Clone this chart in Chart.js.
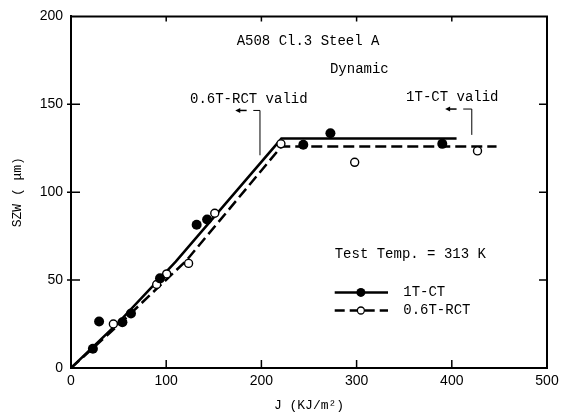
<!DOCTYPE html>
<html>
<head>
<meta charset="utf-8">
<script src="https://cdn.jsdelivr.net/npm/chart.js@4"></script>
<style>
html, body { margin: 0; padding: 0; background: #fff; }
#wrap { width: 564px; height: 416px; }
</style>
</head>
<body>
<div id="wrap"><canvas id="szwChart" width="564" height="416"></canvas></div>
<script>
// 1T-CT measured points (filled)
const ctJ   = [23, 29.5, 54, 63, 93.5, 132, 143, 244, 272.5, 390];
const ctSZW = [11, 26.5, 26, 31, 51, 81.5, 84.5, 127, 133.5, 127.5];

// 0.6T-RCT measured points (open)
const rctJ   = [44.5, 90, 100.5, 123.5, 151, 220.5, 298, 427];
const rctSZW = [25, 47.5, 53.5, 59.5, 88, 127.5, 117, 123.5];

// fitted curves
const ctFitJ    = [0, 50, 110, 221, 405];
const ctFitSZW  = [0, 26, 60.5, 130.5, 130.5];
const rctFitJ   = [0, 50, 121, 221, 447];
const rctFitSZW = [0, 24.5, 61, 126, 126];

// axes
const xTicks = [0, 100, 200, 300, 400, 500];
const yTicks = [0, 50, 100, 150, 200];

const MONO = '"Liberation Mono", "DejaVu Sans Mono", monospace';
const SANS = '"Liberation Sans", Arial, sans-serif';

function toPoints(xs, ys) {
    return xs.map((x, i) => ({ x: x, y: ys[i] }));
}

// frame, inner ticks, notes and legend
const decorPlugin = {
    id: 'decor',
    afterDraw(chart) {
        const ctx = chart.ctx;
        const a = chart.chartArea;
        const xs = chart.scales.x;
        const ys = chart.scales.y;
        const px = v => xs.getPixelForValue(v);
        const py = v => ys.getPixelForValue(v);

        ctx.save();
        ctx.strokeStyle = '#000';
        ctx.fillStyle = '#000';

        // top and right frame
        ctx.lineWidth = 2;
        ctx.beginPath();
        ctx.moveTo(a.left, a.top);
        ctx.lineTo(a.right, a.top);
        ctx.lineTo(a.right, a.bottom);
        ctx.stroke();

        // inward ticks
        ctx.lineWidth = 1.5;
        ctx.beginPath();
        xTicks.slice(1, -1).forEach(v => {
            ctx.moveTo(px(v), a.bottom);
            ctx.lineTo(px(v), a.bottom - 8);
            ctx.moveTo(px(v), a.top);
            ctx.lineTo(px(v), a.top + 5);
        });
        yTicks.slice(1, -1).forEach(v => {
            ctx.moveTo(a.left - 4, py(v));
            ctx.lineTo(a.left + 9, py(v));
            ctx.moveTo(a.right, py(v));
            ctx.lineTo(a.right - 8, py(v));
        });
        ctx.stroke();

        // text notes
        ctx.font = '14px ' + MONO;
        ctx.textBaseline = 'middle';
        ctx.textAlign = 'left';
        ctx.fillText('A508 Cl.3 Steel A', px(174), py(185.8));
        ctx.fillText('Dynamic', px(272), py(170));
        ctx.fillText('0.6T-RCT valid', px(125), py(153));
        ctx.fillText('1T-CT valid', px(352), py(154));
        ctx.fillText('Test Temp. = 313 K', px(277), py(64.7));
        ctx.fillText('1T-CT', px(349), py(43));
        ctx.fillText('0.6T-RCT', px(349), py(32.7));

        // validity brackets with arrows
        ctx.lineWidth = 1;
        ctx.beginPath();
        ctx.moveTo(px(191.5), py(146.5));
        ctx.lineTo(px(198.5), py(146.5));
        ctx.lineTo(px(198.5), py(121));
        ctx.moveTo(px(412), py(147.3));
        ctx.lineTo(px(421), py(147.3));
        ctx.lineTo(px(421), py(132.6));
        ctx.stroke();
        ctx.lineWidth = 1.5;
        [[184.5, 172.5, 146.5], [405, 393, 147.3]].forEach(([x1, x2, y]) => {
            ctx.beginPath();
            ctx.moveTo(px(x1), py(y));
            ctx.lineTo(px(x2) + 4, py(y));
            ctx.stroke();
            ctx.beginPath();
            ctx.moveTo(px(x2), py(y));
            ctx.lineTo(px(x2) + 5, py(y) - 2.5);
            ctx.lineTo(px(x2) + 5, py(y) + 2.5);
            ctx.closePath();
            ctx.fill();
        });

        // legend samples
        ctx.lineWidth = 2.5;
        ctx.beginPath();
        ctx.moveTo(px(277), py(43));
        ctx.lineTo(px(333), py(43));
        ctx.stroke();
        ctx.setLineDash([10, 5]);
        ctx.beginPath();
        ctx.moveTo(px(277), py(32.7));
        ctx.lineTo(px(333), py(32.7));
        ctx.stroke();
        ctx.setLineDash([]);
        ctx.beginPath();
        ctx.arc(px(304.5), py(43), 4.5, 0, Math.PI * 2);
        ctx.fill();
        ctx.beginPath();
        ctx.arc(px(304.5), py(32.7), 3.5, 0, Math.PI * 2);
        ctx.fillStyle = '#fff';
        ctx.fill();
        ctx.lineWidth = 1.3;
        ctx.stroke();

        ctx.restore();
    }
};

const ctx = document.getElementById('szwChart').getContext('2d');
const chart = new Chart(ctx, {
    type: 'scatter',
    data: {
        datasets: [
            {
                label: '1T-CT',
                data: toPoints(ctJ, ctSZW),
                pointStyle: 'circle',
                pointRadius: 5,
                pointBackgroundColor: '#000',
                pointBorderColor: '#000',
                pointBorderWidth: 0,
                showLine: false,
                order: 0
            },
            {
                label: '0.6T-RCT',
                data: toPoints(rctJ, rctSZW),
                pointStyle: 'circle',
                pointRadius: 4,
                pointBackgroundColor: '#fff',
                pointBorderColor: '#000',
                pointBorderWidth: 1.4,
                showLine: false,
                order: 0
            },
            {
                label: '1T-CT fit',
                data: toPoints(ctFitJ, ctFitSZW),
                showLine: true,
                borderColor: '#000',
                borderWidth: 2.5,
                pointRadius: 0,
                fill: false,
                order: 1
            },
            {
                label: '0.6T-RCT fit',
                data: toPoints(rctFitJ, rctFitSZW),
                showLine: true,
                borderColor: '#000',
                borderWidth: 2.5,
                borderDash: [11, 5],
                pointRadius: 0,
                fill: false,
                order: 1
            }
        ]
    },
    options: {
        responsive: false,
        animation: false,
        layout: {
            padding: { left: 0, top: 13, right: 17, bottom: 0 }
        },
        plugins: {
            legend: { display: false },
            tooltip: { enabled: false }
        },
        scales: {
            x: {
                type: 'linear',
                min: 0,
                max: 500,
                afterBuildTicks: s => { s.ticks = xTicks.map(v => ({ value: v })); },
                afterFit: s => { s.height = 48; },
                grid: { display: false, drawTicks: false },
                border: { display: true, color: '#000', width: 2 },
                ticks: {
                    color: '#000',
                    padding: 5,
                    maxRotation: 0,
                    font: { family: SANS, size: 14 }
                },
                title: {
                    display: true,
                    text: 'J (KJ/m\u00b2)',
                    color: '#000',
                    padding: { top: 0, bottom: 3 },
                    font: { family: MONO, size: 13 }
                }
            },
            y: {
                type: 'linear',
                min: 0,
                max: 200,
                afterBuildTicks: s => { s.ticks = yTicks.map(v => ({ value: v })); },
                afterFit: s => { s.width = 71; },
                grid: { display: false, drawTicks: false },
                border: { display: true, color: '#000', width: 2 },
                ticks: {
                    color: '#000',
                    padding: 8,
                    font: { family: SANS, size: 14 }
                },
                title: {
                    display: true,
                    text: 'SZW ( \u03bcm)',
                    color: '#000',
                    padding: { top: 10, bottom: 0 },
                    font: { family: MONO, size: 13 }
                }
            }
        }
    },
    plugins: [decorPlugin]
});
</script>
</body>
</html>
